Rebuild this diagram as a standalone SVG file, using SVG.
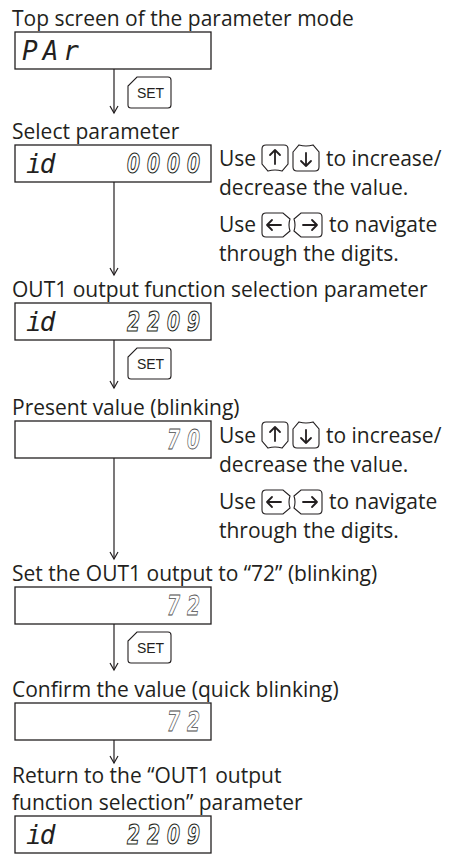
<svg xmlns="http://www.w3.org/2000/svg" width="468" height="854" viewBox="0 0 468 854">
<style>
.t{font-family:"Open Sans","Noto Sans","DejaVu Sans",sans-serif;font-size:21px;fill:#231f20}
.box{fill:#fff;stroke:#231f20;stroke-width:1.3}
.seg{font-family:"DejaVu Sans Mono",monospace;font-style:italic;font-size:26px;fill:#231f20;letter-spacing:4px}
.sego{font-family:"DejaVu Sans",sans-serif;font-style:italic;font-weight:bold;font-size:26px;fill:#fff;stroke:#231f20;stroke-width:1.15;letter-spacing:9.7px}
.segh{font-family:"DejaVu Sans",sans-serif;font-style:italic;font-weight:bold;font-size:26px;fill:#fff;stroke:#4d4d4d;stroke-width:0.8;letter-spacing:9.7px}
.con{fill:none;stroke:#231f20;stroke-width:1.2}
.key{fill:#fff;stroke:#231f20;stroke-width:1.1}
.kar{fill:none;stroke:#231f20;stroke-width:1.8;stroke-linecap:round;stroke-linejoin:round}
.set{font-family:"Liberation Sans",Arial,sans-serif;font-size:14px;fill:#231f20;text-anchor:middle}
</style>
<defs>
<marker id="ah" markerUnits="userSpaceOnUse" markerWidth="12" markerHeight="12" refX="0" refY="0" viewBox="-8 -6 10 12" orient="auto">
<path d="M-7,-4 L0,0 L-7,4" fill="none" stroke="#231f20" stroke-width="1.2"/>
</marker>
<g id="setkey">
<path class="key" d="M9,0 H40 Q43,0 43,3 V28 Q43,31 40,31 H3 Q0,31 0,28 V9 Z"/>
<text class="set" x="22.5" y="21">SET</text>
</g>
<g id="kUp">
<path class="key" d="M0,4 Q0,0 4,0 H22 Q26,0 26,4 V19 L20,26 Q13,24 6,26 L0,19 Z"/>
<path class="kar" d="M13,19 V5 M8,10 L13,5 L18,10"/>
</g>
<g id="kDown">
<path class="key" d="M0,7 L6,0 Q13,2 20,0 L26,7 V22 Q26,26 22,26 H4 Q0,26 0,22 Z"/>
<path class="kar" d="M13,8 V21 M8,16 L13,21 L18,16"/>
</g>
<g id="kLeft">
<path class="key" d="M4,0 H21 L28,6 Q26,12 28,18 L21,24 H4 Q0,24 0,20 V4 Q0,0 4,0 Z"/>
<path class="kar" d="M5,12 H19 M10,7 L5,12 L10,17"/>
</g>
<g id="kRight">
<path class="key" d="M7,0 H24 Q28,0 28,4 V20 Q28,24 24,24 H7 L0,18 Q2,12 0,6 Z"/>
<path class="kar" d="M9,12 H23 M18,7 L23,12 L18,17"/>
</g>
</defs>

<g id="connectors">
<line class="con" x1="114" y1="69" x2="114" y2="113" marker-end="url(#ah)"/>
<line class="con" x1="114" y1="182" x2="114" y2="275" marker-end="url(#ah)"/>
<line class="con" x1="114" y1="340" x2="114" y2="388" marker-end="url(#ah)"/>
<line class="con" x1="114" y1="458" x2="114" y2="559" marker-end="url(#ah)"/>
<line class="con" x1="114" y1="624" x2="114" y2="670" marker-end="url(#ah)"/>
<line class="con" x1="114" y1="740" x2="114" y2="763" marker-end="url(#ah)"/>
<use href="#setkey" x="128" y="77"/>
<use href="#setkey" x="128" y="348"/>
<use href="#setkey" x="128" y="632"/>
</g>

<g id="n1">
<text class="t" x="12" y="26">Top screen of the parameter mode</text>
<rect class="box" x="15" y="32" width="196" height="37"/>
<text class="seg" x="22" y="60" style="letter-spacing:5px">PAr</text>
</g>

<g id="n2">
<text class="t" x="12" y="139">Select parameter</text>
<rect class="box" x="15" y="145" width="196" height="37"/>
<text class="seg" x="26" y="173" style="letter-spacing:-2px">id</text>
<text class="sego" transform="translate(127,173) scale(0.72,1)">0000</text>
</g>

<g id="note1">
<text class="t" x="219" y="166">Use</text>
<use href="#kUp" x="262" y="145"/>
<use href="#kDown" x="293" y="145"/>
<text class="t" x="326" y="166">to increase/</text>
<text class="t" x="219" y="195">decrease the value.</text>
<text class="t" x="219" y="232">Use</text>
<use href="#kLeft" x="262" y="213"/>
<use href="#kRight" x="294" y="213"/>
<text class="t" x="329" y="232">to navigate</text>
<text class="t" x="219" y="261">through the digits.</text>
</g>

<g id="n3">
<text class="t" x="12" y="297">OUT1 output function selection parameter</text>
<rect class="box" x="15" y="303" width="196" height="37"/>
<text class="seg" x="26" y="331" style="letter-spacing:-2px">id</text>
<text class="sego" transform="translate(127,331) scale(0.72,1)">2209</text>
</g>

<g id="n4">
<text class="t" x="12" y="415">Present value (blinking)</text>
<rect class="box" x="15" y="421" width="196" height="37"/>
<text class="segh" transform="translate(167,449) scale(0.72,1)">70</text>
</g>

<g id="note2">
<text class="t" x="219" y="443">Use</text>
<use href="#kUp" x="262" y="422"/>
<use href="#kDown" x="293" y="422"/>
<text class="t" x="326" y="443">to increase/</text>
<text class="t" x="219" y="472">decrease the value.</text>
<text class="t" x="219" y="509">Use</text>
<use href="#kLeft" x="262" y="490"/>
<use href="#kRight" x="294" y="490"/>
<text class="t" x="329" y="509">to navigate</text>
<text class="t" x="219" y="538">through the digits.</text>
</g>

<g id="n5">
<text class="t" x="12" y="581">Set the OUT1 output to “72” (blinking)</text>
<rect class="box" x="15" y="587" width="196" height="37"/>
<text class="segh" transform="translate(167,615) scale(0.72,1)">72</text>
</g>

<g id="n6">
<text class="t" x="12" y="697">Confirm the value (quick blinking)</text>
<rect class="box" x="15" y="703" width="196" height="37"/>
<text class="segh" transform="translate(167,731) scale(0.72,1)">72</text>
</g>

<g id="n7">
<text class="t" x="12" y="783">Return to the “OUT1 output</text>
<text class="t" x="12" y="810">function selection” parameter</text>
<rect class="box" x="15" y="816" width="196" height="37"/>
<text class="seg" x="26" y="844" style="letter-spacing:-2px">id</text>
<text class="sego" transform="translate(127,844) scale(0.72,1)">2209</text>
</g>
</svg>
